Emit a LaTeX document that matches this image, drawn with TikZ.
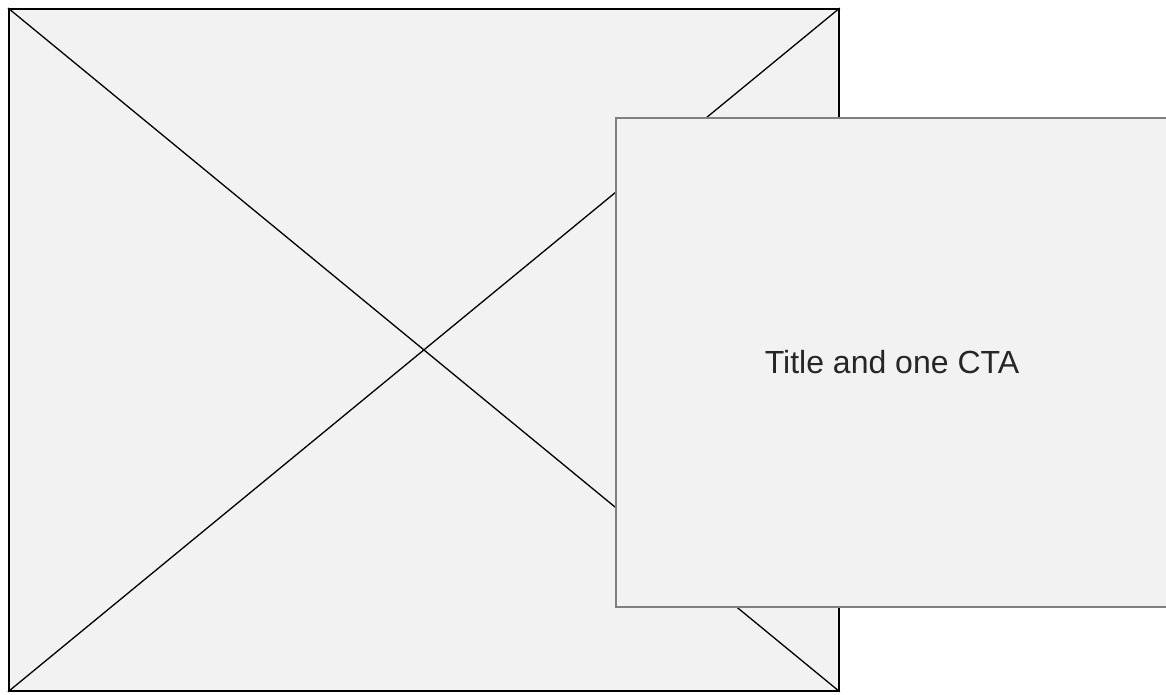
\documentclass[tikz,border=0pt]{standalone}
\usepackage{fontspec}
\setmainfont{Liberation Sans}
\definecolor{boxfill}{HTML}{F2F2F2}
\definecolor{cardline}{HTML}{7F7F7F}
\definecolor{cardtext}{HTML}{262626}
\begin{document}
\begin{tikzpicture}[x=1pt, y=-1pt,
        imagebox/.style={draw=black, line width=1.8pt, fill=boxfill, inner sep=0pt, anchor=north west},
        cardbox/.style={draw=cardline, line width=2pt, fill=boxfill, inner sep=0pt, anchor=north west,
            text=cardtext, font=\fontsize{32}{38}\selectfont}]
        \useasboundingbox (0,0) rectangle (1166,694);

        % image placeholder
        \node[imagebox, minimum width=830pt, minimum height=682pt] (image) at (8,8) {};

        % draw cross
        \draw[line width=1.3pt] (image.north west) -- (image.south east);
        \draw[line width=1.3pt] (image.north east) -- (image.south west);

        % text card on top
        \node[cardbox, minimum width=552pt, minimum height=489pt] (card) at (615,117) {Title and one CTA};
    \end{tikzpicture}
\end{document}
